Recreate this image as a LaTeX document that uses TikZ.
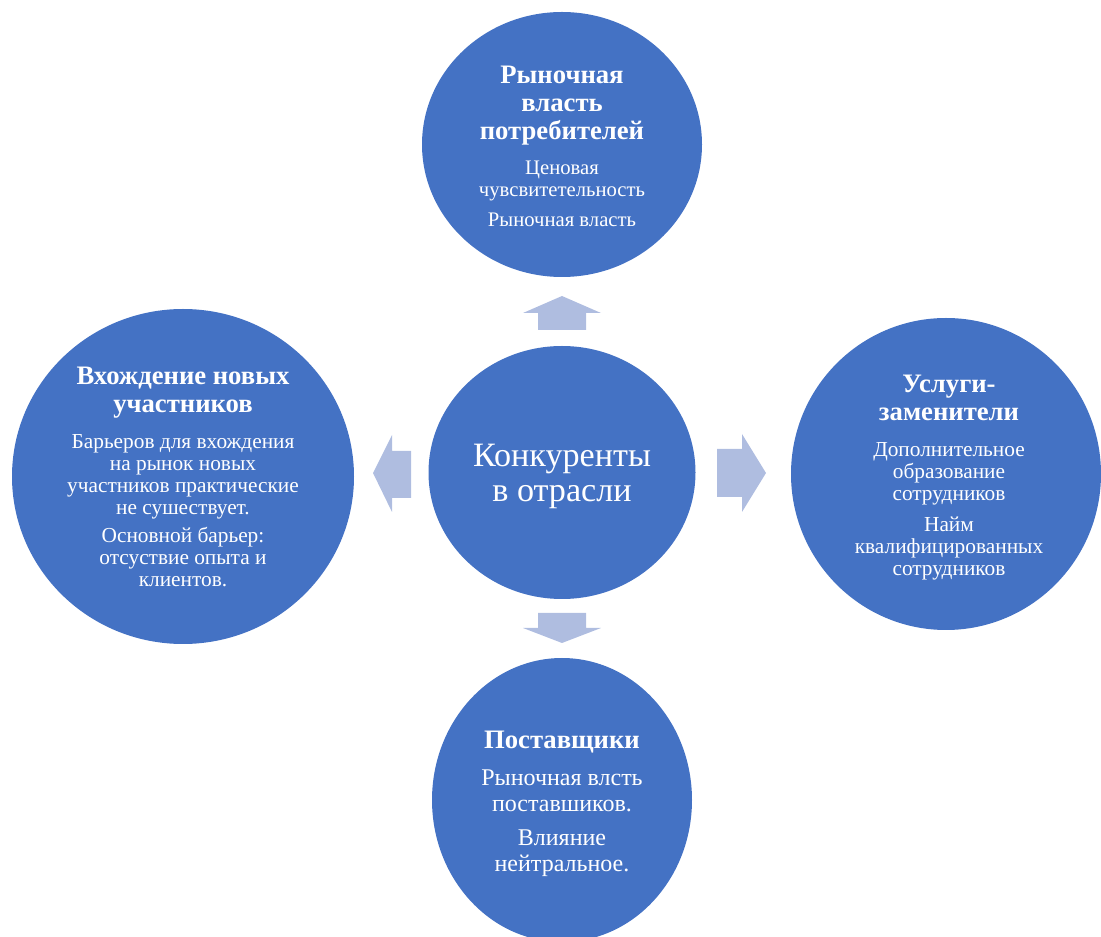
\documentclass[tikz,border=0pt]{standalone}
\usepackage{fontspec}
\setmainfont{Liberation Serif}
\usetikzlibrary{shapes.geometric}
\definecolor{circblue}{HTML}{4472C4}
\definecolor{arrblue}{HTML}{AFBDE0}
\newcommand{\myttl}{\fontsize{20}{21}\selectfont\bfseries}
\tikzset{
  circ/.style={shape=ellipse, fill=circblue, draw=none, inner sep=0pt},
  txt/.style={inner sep=0pt, text=white, align=center},
  body/.style={font={\fontsize{#1}{16.5}\selectfont\lineskiplimit=-100pt\lineskip=0pt}},
  arr/.style={fill=arrblue, draw=none},
}
\begin{document}
\begin{tikzpicture}[x=0.75pt,y=-0.75pt]
\useasboundingbox (0,0) rectangle (1101,937);
% circles
\node[circ, minimum width=210pt, minimum height=198.75pt] (top) at (562,144.5) {};
\node[circ, minimum width=200.25pt, minimum height=189.75pt] (mid) at (562,472.5) {};
\node[circ, minimum width=256.5pt, minimum height=251.25pt] (left) at (183,476.5) {};
\node[circ, minimum width=232.5pt, minimum height=234pt] (right) at (946,474) {};
\node[circ, minimum width=195pt, minimum height=213pt] (bot) at (562,800) {};
% texts
\node[txt, body=15.5] (toptext) at (562,146.5)
 {\myttl Рыночная\\[4.5pt]\myttl власть\\[4.5pt]\myttl потребителей\\[9.75pt]Ценовая\\чувсвитетельность\\[6pt]Рыночная власть};
\node[txt, font={\fontsize{25.6}{26.25}\selectfont\lineskiplimit=-100pt}] (midtext) at (562,476.5)
 {Конкуренты\\в отрасли};
\node[txt, body=16] (lefttext) at (183,477)
 {\myttl Вхождение новых\\[4.5pt]\myttl участников\\[10.5pt]Барьеров для вхождения\\на рынок новых\\участников практические\\не сушествует.\\[4.5pt]Основной барьер:\\отсуствие опыта и\\клиентов.};
\node[txt, body=16] (righttext) at (949,477.5)
 {\myttl Услуги-\\[4.5pt]\myttl заменители\\[10.5pt]Дополнительное\\образование\\сотрудников\\[6.75pt]Найм\\квалифицированных\\сотрудников};
\node[txt, font={\fontsize{18}{19.5}\selectfont\lineskiplimit=-100pt\lineskip=0pt}] (bottext) at (562,804)
 {\myttl Поставщики\\[8.25pt]Рыночная влсть\\поставшиков.\\[6pt]Влияние\\нейтральное.};
% arrows
\fill[arr] (538,330) -- (538,313) -- (523,313) -- (562,296) -- (601,313) -- (586,313) -- (586,330) -- cycle;
\fill[arr] (538,613) -- (538,628) -- (523,628) -- (562,643) -- (601,628) -- (586,628) -- (586,613) -- cycle;
\fill[arr] (411,451) -- (392,451) -- (392,435) -- (373,473) -- (392,512) -- (392,498) -- (411,498) -- cycle;
\fill[arr] (717,449) -- (742,449) -- (742,434) -- (766,473) -- (742,512) -- (742,497) -- (717,497) -- cycle;
\end{tikzpicture}
\end{document}
